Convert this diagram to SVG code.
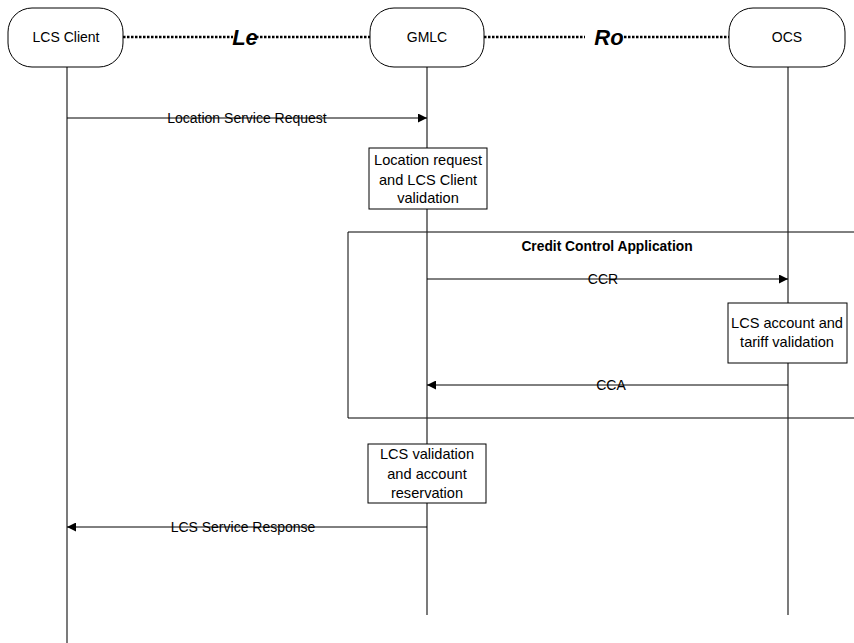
<svg xmlns="http://www.w3.org/2000/svg" width="854" height="643" viewBox="0 0 854 643">
<defs>
<style>
.t{font-family:"Liberation Sans",Arial,sans-serif;font-size:14px;fill:#000;text-anchor:middle}
.bt{font-size:14.6px}
.b{font-weight:bold;font-size:13.8px}
.ref{font-family:"Liberation Sans",Arial,sans-serif;font-size:22px;font-weight:bold;font-style:italic;fill:#000;text-anchor:middle}
.node{fill:#fff;stroke:#000;stroke-width:1}
.life{stroke:#222;stroke-width:1.2;fill:none}
.msg{stroke:#000;stroke-width:1;fill:none}
.dot{stroke:#000;stroke-width:2.5;stroke-dasharray:2.5 1.5;fill:none}
.box{fill:#fff;stroke:#000;stroke-width:1}
</style>
<marker id="ah" viewBox="0 0 10 10" refX="10" refY="5" markerWidth="10" markerHeight="9" markerUnits="userSpaceOnUse" orient="auto">
<path d="M0,0 L10,5 L0,10 Z" fill="#000"/>
</marker>
</defs>
<rect width="854" height="643" fill="#fff"/>
<g id="frame">
<path d="M854,232 H348 V418 H854" fill="none" stroke="#000" stroke-width="1"/>
<text class="t b" x="607" y="251">Credit Control Application</text>
</g>
<g id="lifelines">
<line class="life" x1="67" y1="67" x2="67" y2="643"/>
<line class="life" x1="427" y1="67" x2="427" y2="615"/>
<line class="life" x1="788" y1="67" x2="788" y2="615"/>
</g>
<g id="connectors">
<line class="dot" x1="123" y1="37" x2="233" y2="37"/>
<line class="dot" x1="256" y1="37" x2="370" y2="37"/>
<text class="ref" x="245" y="45">Le</text>
<line class="dot" x1="484" y1="37" x2="585" y2="37"/>
<line class="dot" x1="624" y1="37" x2="729" y2="37"/>
<text class="ref" x="609" y="45">Ro</text>
<line class="msg" x1="67" y1="118" x2="427" y2="118" marker-end="url(#ah)"/>
<text class="t" x="247" y="123">Location Service Request</text>
<line class="msg" x1="427" y1="279" x2="788" y2="279" marker-end="url(#ah)"/>
<text class="t" x="603" y="284">CCR</text>
<line class="msg" x1="788" y1="385" x2="427" y2="385" marker-end="url(#ah)"/>
<text class="t" x="611" y="390">CCA</text>
<line class="msg" x1="427" y1="527" x2="67" y2="527" marker-end="url(#ah)"/>
<text class="t" x="243" y="532">LCS Service Response</text>
</g>
<g id="lcs-client">
<rect class="node" x="8" y="8" width="115" height="59" rx="24" ry="24"/>
<text class="t" x="66" y="42">LCS Client</text>
</g>
<g id="gmlc">
<rect class="node" x="370" y="8" width="114" height="59" rx="24" ry="24"/>
<text class="t" x="427" y="42">GMLC</text>
</g>
<g id="ocs">
<rect class="node" x="729" y="8" width="116" height="59" rx="24" ry="24"/>
<text class="t" x="787" y="42">OCS</text>
</g>
<g id="loc-validation">
<rect class="box" x="369" y="148" width="118" height="61"/>
<text class="t bt" x="428" y="165">Location request</text>
<text class="t bt" x="428" y="185">and LCS Client</text>
<text class="t bt" x="428" y="203">validation</text>
</g>
<g id="tariff-validation">
<rect class="box" x="728" y="303" width="119" height="60"/>
<text class="t bt" x="787" y="328">LCS account and</text>
<text class="t bt" x="787" y="347">tariff validation</text>
</g>
<g id="reservation">
<rect class="box" x="368" y="444" width="118" height="59"/>
<text class="t bt" x="427" y="459">LCS validation</text>
<text class="t bt" x="427" y="479">and account</text>
<text class="t bt" x="427" y="498">reservation</text>
</g>
</svg>
